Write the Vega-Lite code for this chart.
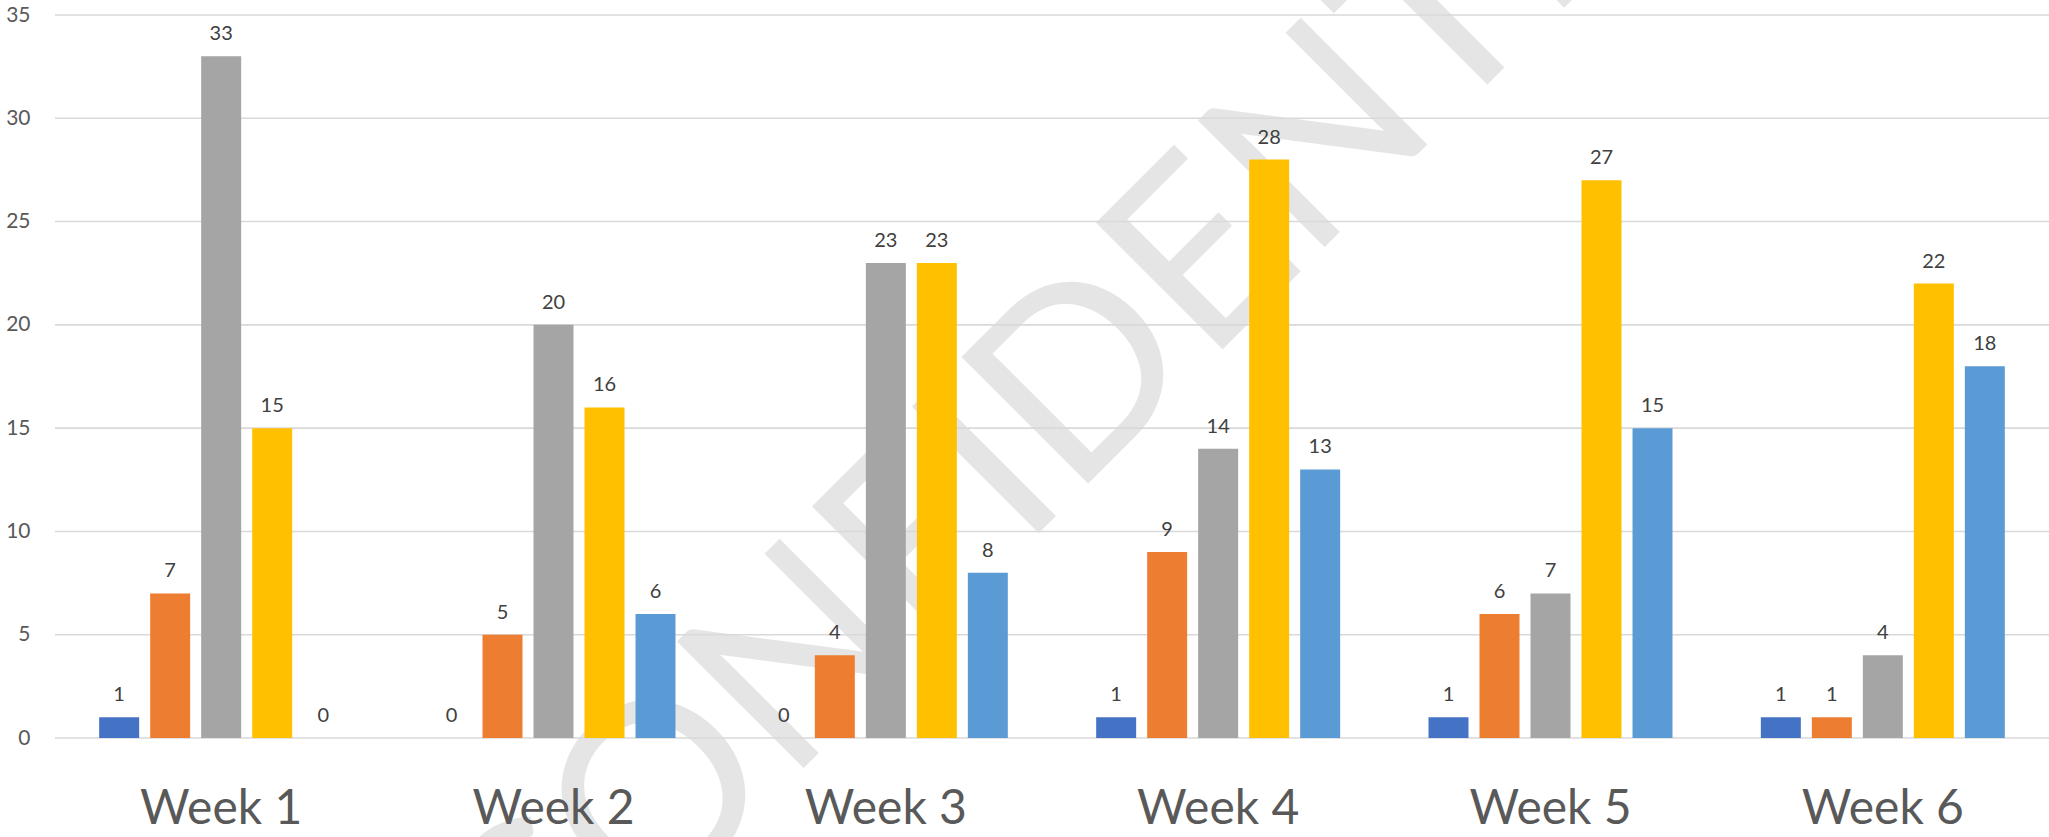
{
  "$schema": "https://vega.github.io/schema/vega-lite/v6.json",
  "width": 1994,
  "height": 723,
  "autosize": {"type": "none"},
  "padding": {"left": 55, "top": 15, "right": 0, "bottom": 99},
  "background": "white",
  "config": {"view": {"stroke": null}},
  "datasets": {
    "bars": [
      {"week": "Week 1", "series": "Series 1", "value": 1},
      {"week": "Week 1", "series": "Series 2", "value": 7},
      {"week": "Week 1", "series": "Series 3", "value": 33},
      {"week": "Week 1", "series": "Series 4", "value": 15},
      {"week": "Week 1", "series": "Series 5", "value": 0},
      {"week": "Week 2", "series": "Series 1", "value": 0},
      {"week": "Week 2", "series": "Series 2", "value": 5},
      {"week": "Week 2", "series": "Series 3", "value": 20},
      {"week": "Week 2", "series": "Series 4", "value": 16},
      {"week": "Week 2", "series": "Series 5", "value": 6},
      {"week": "Week 3", "series": "Series 1", "value": 0},
      {"week": "Week 3", "series": "Series 2", "value": 4},
      {"week": "Week 3", "series": "Series 3", "value": 23},
      {"week": "Week 3", "series": "Series 4", "value": 23},
      {"week": "Week 3", "series": "Series 5", "value": 8},
      {"week": "Week 4", "series": "Series 1", "value": 1},
      {"week": "Week 4", "series": "Series 2", "value": 9},
      {"week": "Week 4", "series": "Series 3", "value": 14},
      {"week": "Week 4", "series": "Series 4", "value": 28},
      {"week": "Week 4", "series": "Series 5", "value": 13},
      {"week": "Week 5", "series": "Series 1", "value": 1},
      {"week": "Week 5", "series": "Series 2", "value": 6},
      {"week": "Week 5", "series": "Series 3", "value": 7},
      {"week": "Week 5", "series": "Series 4", "value": 27},
      {"week": "Week 5", "series": "Series 5", "value": 15},
      {"week": "Week 6", "series": "Series 1", "value": 1},
      {"week": "Week 6", "series": "Series 2", "value": 1},
      {"week": "Week 6", "series": "Series 3", "value": 4},
      {"week": "Week 6", "series": "Series 4", "value": 22},
      {"week": "Week 6", "series": "Series 5", "value": 18}
    ],
    "grid": [{"g": 0}, {"g": 5}, {"g": 10}, {"g": 15}, {"g": 20}, {"g": 25}, {"g": 30}, {"g": 35}],
    "mark": [{"label": "CONFIDENTIAL", "week": "Week 4", "series": "Series 1", "pos": 18.8}]
  },
  "layer": [
    {
      "data": {"name": "mark"},
      "mark": {"type": "text", "font": "Lato", "fontSize": 250, "angle": -45, "align": "center", "baseline": "middle", "color": "#E5E5E5"},
      "encoding": {
        "x": {"field": "week", "type": "nominal"},
        "xOffset": {"field": "series", "type": "nominal"},
        "y": {"field": "pos", "type": "quantitative"},
        "text": {"field": "label"}
      }
    },
    {
      "data": {"name": "grid"},
      "mark": {"type": "rule", "color": "#D9D9D9", "strokeWidth": 1.6},
      "encoding": {
        "y": {"field": "g", "type": "quantitative"}
      }
    },
    {
      "data": {"name": "bars"},
      "mark": {"type": "bar"},
      "encoding": {
        "x": {
          "field": "week", "type": "nominal",
          "scale": {"paddingInner": 0, "paddingOuter": 0},
          "axis": {"title": null, "zindex": 1, "labelAngle": 0, "labelAlign": "center", "bandPosition": 0.5, "labelBaseline": "alphabetic", "labelFont": "Lato", "labelFontSize": 48, "labelColor": "#595959", "ticks": false, "tickSize": 0, "domain": false, "labelPadding": 85, "grid": false}
        },
        "xOffset": {
          "field": "series", "type": "nominal",
          "scale": {"paddingInner": 0.216, "paddingOuter": 0.866}
        },
        "y": {
          "field": "value", "type": "quantitative",
          "scale": {"domain": [0, 35], "nice": false},
          "axis": {"title": null, "zindex": 1, "values": [0, 5, 10, 15, 20, 25, 30, 35], "labelFont": "Lato", "labelFontSize": 21, "labelColor": "#595959", "ticks": false, "tickSize": 0, "domain": false, "grid": false, "labelPadding": 25}
        },
        "color": {
          "field": "series", "type": "nominal",
          "scale": {"domain": ["Series 1", "Series 2", "Series 3", "Series 4", "Series 5"], "range": ["#4472C4", "#ED7D31", "#A5A5A5", "#FFC000", "#5B9BD5"]},
          "legend": null
        }
      }
    },
    {
      "data": {"name": "bars"},
      "mark": {"type": "text", "font": "Lato", "fontSize": 20, "color": "#404040", "baseline": "alphabetic", "dy": -16},
      "encoding": {
        "x": {"field": "week", "type": "nominal"},
        "xOffset": {"field": "series", "type": "nominal"},
        "y": {"field": "value", "type": "quantitative"},
        "text": {"field": "value", "type": "quantitative"}
      }
    }
  ]
}
